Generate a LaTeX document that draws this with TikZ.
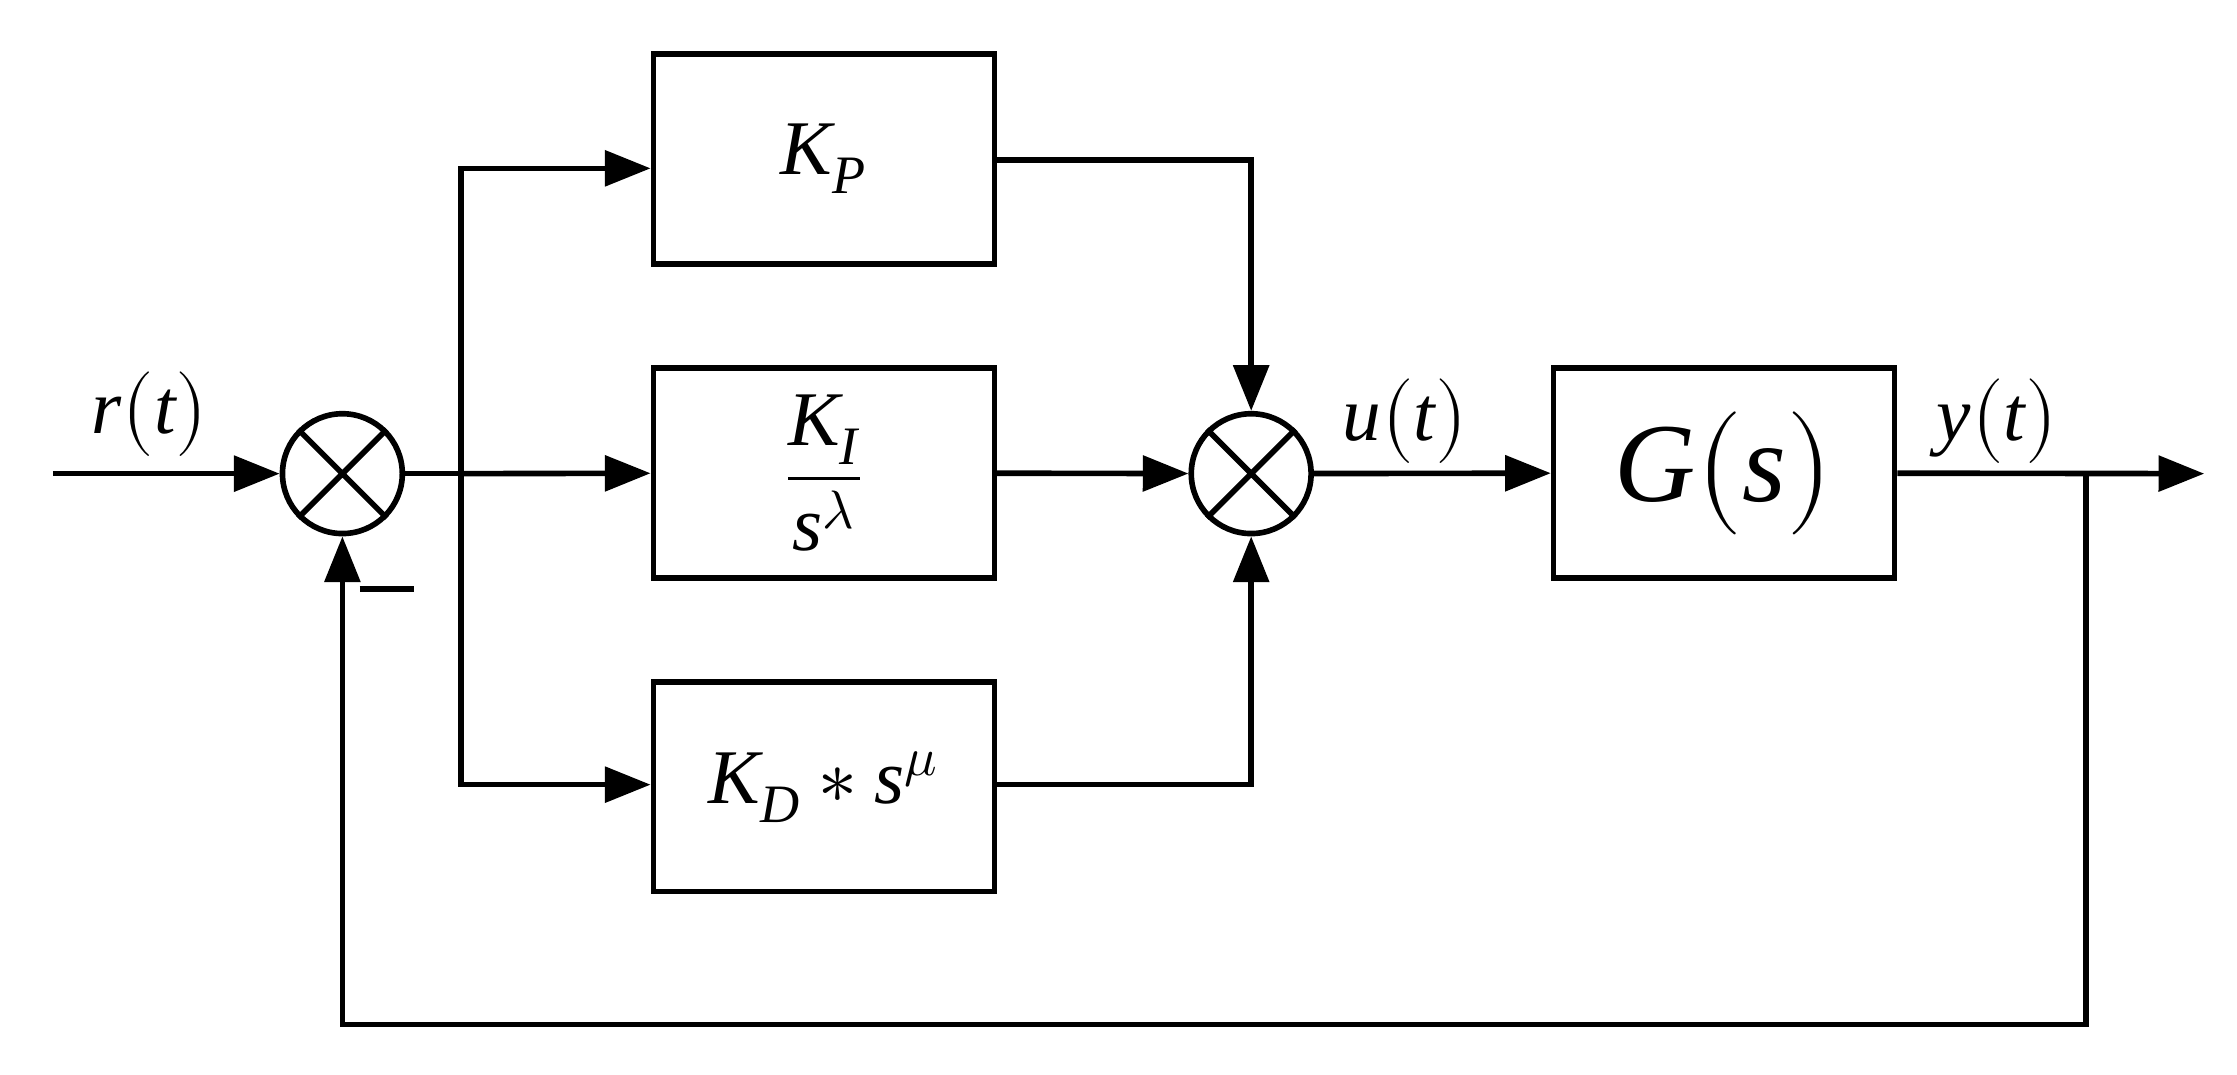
\documentclass[tikz,border=0pt]{standalone}
\usepackage{fontspec}
\usepackage{unicode-math}
\setmainfont{Liberation Serif}
\setmathfont{Latin Modern Math}
\usetikzlibrary{arrows.meta}
\begin{document}
\begin{tikzpicture}[x=0.01427cm,y=-0.01427cm,
  ln/.style={line width=1.6pt},
  ar/.style={ln,-{Triangle[length=13pt,width=10pt]}},
  blk/.style={draw,line width=1.6pt,minimum width=239*0.01427cm,minimum height=147*0.01427cm,font=\fontsize{22}{26}\selectfont},
  sum/.style={draw,line width=1.6pt,circle,minimum size=84*0.01427cm,inner sep=0pt},
  lbl/.style={font=\fontsize{22}{26}\selectfont}]
\useasboundingbox (0,0) rectangle (1568,753);
\node[sum] (s1) at (240,332) {};
\draw[ln] (s1.north east)--(s1.south west) (s1.north west)--(s1.south east);
\node[sum] (s2) at (877,332) {};
\draw[ln] (s2.north east)--(s2.south west) (s2.north west)--(s2.south east);
\node[blk] (kp) at (577.5,111.5) {$\mathit{K}_{\mathit{P}}$};
\node[blk] (ki) at (577.5,331.5) {$\dfrac{\mathit{K}_{\mathit{I}}}{\mathit{s}^{\lambda}}$};
\node[blk] (kd) at (577.5,551.5) {$\mathit{K}_{\mathit{D}}\ast \mathit{s}^{\mu}$};
\node[blk,font=\fontsize{32}{38}\selectfont] (g) at (1208.5,331.5) {$\mathit{G}\big(\mathit{s}\big)$};
\coordinate (in) at (37,332);
\coordinate (br) at (323,332);
\coordinate (tap) at (1462,332);
\coordinate (out) at (1545,332);
\draw[ar] (in)--(s1);
\draw[ln] (s1)--(br);
\draw[ar] (br)--(ki);
\draw[ar] (br)|-(kp.west|-0,118);
\draw[ar] (br)|-(kd.west|-0,550);
\draw[ar] (kp.east|-0,112)-|(s2);
\draw[ar] (kd.east|-0,550)-|(s2);
\draw[ar] (ki)--(s2);
\draw[ar] (s2)--(g);
\draw[ar] (g)--(out);
\draw[ar] (tap)|-(240,718)--(s1);
\node[lbl] at (105,290) {$\mathit{r}\big(\mathit{t}\big)$};
\node[lbl] at (985,295) {$\mathit{u}\big(\mathit{t}\big)$};
\node[lbl] at (1400,295) {$\mathit{y}\big(\mathit{t}\big)$};
\draw[ln] (252,413)--(290,413);
\end{tikzpicture}
\end{document}
